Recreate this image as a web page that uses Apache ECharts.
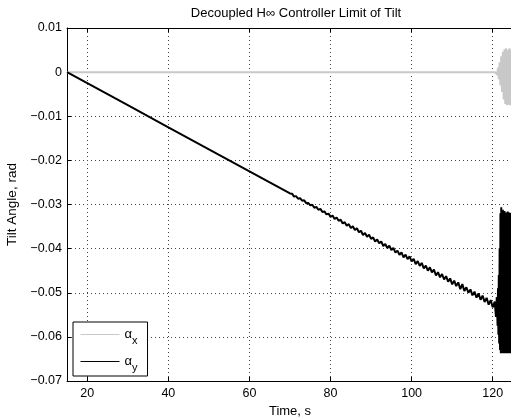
<!DOCTYPE html>
<html><head><meta charset="utf-8">
<script src="https://cdn.jsdelivr.net/npm/echarts@6/dist/echarts.min.js"></script>
<style>html,body{margin:0;padding:0;background:#fff}#c{width:511px;height:418px}</style>
</head><body><div id="c"></div>
<script>
// ---- data ----
const xTicks = [20, 40, 60, 80, 100, 120];
const yTicks = [0.01, 0, -0.01, -0.02, -0.03, -0.04, -0.05, -0.06, -0.07];

const timeX = [15, 120.6, 120.9, 121.1, 121.3, 121.5, 121.7, 121.9, 122.1, 122.3, 122.5, 122.7, 122.9, 123.1, 123.3, 123.5, 123.7, 123.9, 124.1, 124.3, 124.5, 124.7, 124.9];
const alphaX = [0, 0, 0.0004, -0.0006, 0.0010, -0.0016, 0.0022, -0.0030, 0.0036, -0.0045, 0.0046, -0.0062, 0.0052, -0.0072, 0.0054, -0.0075, 0.0050, -0.0074, 0.0054, -0.0075, 0.0052, -0.0074, 0.0053];

const timeY = [15, 20, 30, 40, 50, 60, 70,
  70.5, 71, 71.5, 72, 72.5, 73, 73.5, 74, 74.5, 75, 75.5, 76, 76.5, 77, 77.5, 78, 78.5, 79, 79.5, 80,
  80.5, 81, 81.5, 82, 82.5, 83, 83.5, 84, 84.5, 85, 85.5, 86, 86.5, 87, 87.5, 88, 88.5, 89, 89.5, 90,
  90.5, 91, 91.5, 92, 92.5, 93, 93.5, 94, 94.5, 95, 95.5, 96, 96.5, 97, 97.5, 98, 98.5, 99, 99.5, 100,
  100.5, 101, 101.5, 102, 102.5, 103, 103.5, 104, 104.5, 105, 105.5, 106, 106.5, 107, 107.5, 108, 108.5, 109, 109.5, 110,
  110.5, 111, 111.5, 112, 112.5, 113, 113.5, 114, 114.5, 115, 115.5, 116, 116.5, 117, 117.5, 118, 118.5, 119, 119.5, 120,
  120.5, 120.8, 121.0, 121.2, 121.3, 121.4, 121.5, 121.6, 121.7, 121.8, 121.9, 122.0, 122.1, 122.2, 122.3, 122.4, 122.5,
  122.6, 122.7, 122.8, 122.9, 123.0, 123.1, 123.2, 123.3, 123.4, 123.5, 123.6, 123.7, 123.8, 123.9, 124.0,
  124.1, 124.2, 124.3, 124.4, 124.5, 124.6, 124.7, 124.8, 124.9, 125.0];
const alphaY = [0, -0.0025, -0.0075, -0.0125, -0.0175, -0.0225, -0.0275,
  -0.02755, -0.0282, -0.0281, -0.0287, -0.02855, -0.02915, -0.02905, -0.0297, -0.02965, -0.0302, -0.03005, -0.03075, -0.03055, -0.0312, -0.0310, -0.0317, -0.03155, -0.03225, -0.03205, -0.0328,
  -0.0325, -0.0333, -0.03295, -0.0337, -0.03345, -0.0343, -0.0340, -0.0348, -0.03445, -0.03535, -0.03495, -0.0358, -0.0354, -0.0363, -0.03595, -0.0369, -0.03645, -0.0373, -0.03685, -0.0378,
  -0.03745, -0.0384, -0.03795, -0.0388, -0.03835, -0.0394, -0.03895, -0.0399, -0.03935, -0.0403, -0.03985, -0.0409, -0.04045, -0.0414, -0.04085, -0.0420, -0.04135, -0.0424, -0.04175, -0.0429,
  -0.04235, -0.0435, -0.04285, -0.0439, -0.04325, -0.0445, -0.04385, -0.0450, -0.04425, -0.0454, -0.04475, -0.0461, -0.04535, -0.0465, -0.04575, -0.0470, -0.04625, -0.0475, -0.04675, -0.0481,
  -0.04725, -0.0485, -0.04765, -0.0492, -0.04805, -0.0496, -0.04875, -0.0500, -0.04925, -0.0506, -0.04975, -0.0511, -0.05015, -0.0516, -0.05065, -0.0521, -0.05115, -0.0527, -0.05165, -0.0533,
  -0.0520, -0.0555, -0.0510, -0.0575, -0.0490, -0.0595, -0.0460, -0.0615, -0.0400, -0.0630, -0.0320, -0.0637, -0.0306, -0.0636, -0.0318, -0.0637, -0.0312,
  -0.0635, -0.0325, -0.0637, -0.0315, -0.0636, -0.0322, -0.0637, -0.0318, -0.0635, -0.0326, -0.0637, -0.0316, -0.0636, -0.0320, -0.0637,
  -0.0318, -0.0636, -0.0322, -0.0637, -0.0319, -0.0636, -0.0320, -0.0637, -0.0320, -0.0636];

const seriesNames = ['αx', 'αy'];

// ---- chart ----
const pairs = (t, v) => t.map((x, i) => [x, v[i]]);
const FONT = '"Liberation Sans", Arial, Helvetica, sans-serif';
const chart = echarts.init(document.getElementById('c'), null, {renderer: 'canvas'});
const dotted = {color: '#444', width: 1, type: [1, 3]};
const fmtY = v => {
  const r = Math.round(v * 100) / 100;
  return r === 0 ? '0' : String(r).replace('-', '\u2212');
};
const hiddenSym = {color: 'transparent', borderColor: 'transparent', borderWidth: 0, opacity: 0};
chart.setOption({
  animation: false,
  backgroundColor: '#fff',
  title: {
    text: 'Decoupled H\u221e Controller Limit of Tilt',
    left: 291, top: 2, textAlign: 'center',
    textStyle: {fontFamily: FONT, fontSize: 13, fontWeight: 'normal', color: '#000'}
  },
  grid: {left: 67, top: 28, width: 446, height: 353, containLabel: false, outerBoundsMode: 'none'},
  legend: {
    left: 73, top: 322, orient: 'vertical',
    backgroundColor: '#fff', borderColor: '#000', borderWidth: 1, borderRadius: 0,
    padding: [6, 10, 3, 7], itemWidth: 39, itemHeight: 12, itemGap: 9,
    data: [
      {name: seriesNames[0], lineStyle: {width: 1}, itemStyle: hiddenSym},
      {name: seriesNames[1], lineStyle: {width: 1}, itemStyle: hiddenSym}
    ],
    formatter: n => '{a|α}{s|' + n.slice(1) + '}',
    textStyle: {
      fontFamily: FONT, color: '#000',
      rich: {
        a: {fontFamily: FONT, fontSize: 13, color: '#000'},
        s: {fontFamily: FONT, fontSize: 11, color: '#000', padding: [12, 0, 0, 0]}
      }
    }
  },
  xAxis: [{
    type: 'value', min: 15, max: 125, position: 'bottom',
    name: 'Time, s', nameLocation: 'middle', nameGap: 20,
    nameTextStyle: {fontFamily: FONT, fontSize: 13, color: '#000'},
    axisLine: {show: true, onZero: false, lineStyle: {color: '#000', width: 1}},
    axisTick: {show: true, inside: true, length: 4, customValues: xTicks, lineStyle: {color: '#000'}},
    axisLabel: {show: true, customValues: xTicks, margin: 6, fontFamily: FONT, fontSize: 12.5, color: '#000'},
    splitLine: {show: true, lineStyle: dotted}
  }, {
    type: 'value', min: 15, max: 125, position: 'top',
    axisLine: {show: true, onZero: false, lineStyle: {color: '#000', width: 1}},
    axisTick: {show: true, inside: true, length: 4, customValues: xTicks, lineStyle: {color: '#000'}},
    axisLabel: {show: false},
    splitLine: {show: false}
  }],
  yAxis: [{
    type: 'value', min: -0.07, max: 0.01, interval: 0.01,
    name: 'Tilt Angle, rad', nameLocation: 'middle', nameGap: 45,
    nameTextStyle: {fontFamily: FONT, fontSize: 13.5, color: '#000'},
    axisLine: {show: true, onZero: false, lineStyle: {color: '#000', width: 1}},
    axisTick: {show: true, inside: true, length: 4, lineStyle: {color: '#000'}},
    axisLabel: {show: true, margin: 5, formatter: fmtY, fontFamily: FONT, fontSize: 12.5, color: '#000'},
    splitLine: {show: true, lineStyle: dotted}
  }],
  series: [{
    name: seriesNames[0], type: 'line', xAxisIndex: 0, yAxisIndex: 0,
    data: pairs(timeX, alphaX), symbol: 'none', clip: true,
    lineStyle: {color: '#c8c8c8', width: 2}, itemStyle: {color: '#c8c8c8'}
  }, {
    name: seriesNames[1], type: 'line', xAxisIndex: 0, yAxisIndex: 0,
    data: pairs(timeY, alphaY), symbol: 'none', clip: true,
    lineStyle: {color: '#000', width: 2}, itemStyle: {color: '#000'}
  }]
});
</script></body></html>
